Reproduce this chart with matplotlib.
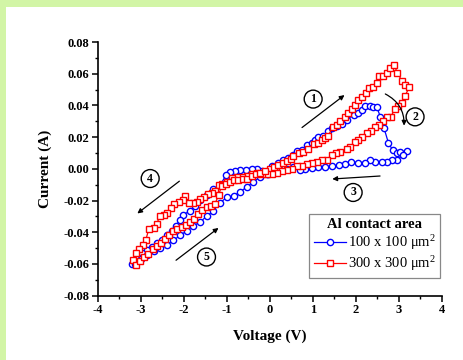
import matplotlib
matplotlib.use("Agg")
import matplotlib.pyplot as plt
from matplotlib.patches import Rectangle

# curva del contacto 100 x 100 um2 (V, A) siguiendo el barrido 0 -> +3.2 -> 0 -> -3.2 -> 0
v_100 = [0.05, 0.2, 0.32, 0.43, 0.55, 0.63, 0.74, 0.86, 0.98, 1.05, 1.13, 1.25, 1.36, 1.44, 1.56,
         1.67, 1.79, 1.95, 2.06, 2.14, 2.22, 2.33, 2.41, 2.49, 2.57, 2.66, 2.76, 2.86, 2.95, 3.03,
         3.2, 3.1, 2.97, 2.84, 2.72, 2.6, 2.45, 2.33, 2.22, 2.06, 1.9, 1.75, 1.6, 1.44, 1.29, 1.13,
         0.98, 0.82, 0.7, 0.55, 0.4, 0.24, 0.085, -0.03, -0.19, -0.3, -0.42, -0.55, -0.69, -0.81,
         -0.92, -1.02, -1.15, -1.31, -1.47, -1.62, -1.74, -1.85, -2.02, -2.08, -2.18, -2.28, -2.4,
         -2.51, -2.63, -2.74, -2.86, -2.98, -3.09, -3.21, -3.13, -3.0, -2.86, -2.7, -2.55, -2.4,
         -2.24, -2.08, -1.93, -1.78, -1.62, -1.47, -1.31, -1.16, -1.0, -0.84, -0.69, -0.53, -0.38,
         -0.22, -0.07, 0.05]
i_100 = [0.0015, 0.0034, 0.0055, 0.007, 0.0086, 0.011, 0.012, 0.015, 0.016, 0.0185, 0.020, 0.021,
         0.024, 0.026, 0.027, 0.0286, 0.031, 0.034, 0.035, 0.037, 0.0396, 0.0396, 0.039, 0.039,
         0.033, 0.0255, 0.0164, 0.0118, 0.010, 0.0107, 0.0114, 0.0086, 0.0059, 0.0055, 0.0042,
         0.0042, 0.0046, 0.0055, 0.0038, 0.0038, 0.0044, 0.003, 0.0023, 0.0017, 0.0013, 0.0013,
         0.0006, -0.0004, -0.0008, 0.0013, 0.0002, -0.0008, -0.0025, -0.0034, -0.0015, -0.0002,
         -0.0002, -0.0005, -0.0008, -0.0013, -0.0019, -0.004, -0.0103, -0.013, -0.0166, -0.0198,
         -0.0234, -0.0265, -0.029, -0.032, -0.036, -0.039, -0.042, -0.045, -0.047, -0.049, -0.051,
         -0.053, -0.056, -0.060, -0.060, -0.0566, -0.0545, -0.052, -0.050, -0.048, -0.045, -0.042,
         -0.039, -0.036, -0.0335, -0.030, -0.0265, -0.0215, -0.018, -0.0173, -0.0145, -0.0114,
         -0.0082, -0.005, -0.003, -0.0008]

# curva del contacto 300 x 300 um2
v_300 = [0.01, 0.1, 0.2, 0.3, 0.4, 0.49, 0.55, 0.67, 0.78, 0.9, 1.02, 1.13, 1.21, 1.29, 1.36, 1.46,
         1.56, 1.64, 1.75, 1.83, 1.91, 1.98, 2.06, 2.14, 2.24, 2.32, 2.41, 2.49, 2.55, 2.63, 2.72,
         2.8, 2.89, 2.97, 3.07, 3.15, 3.25, 3.15, 3.07, 2.99, 2.91, 2.81, 2.72, 2.63, 2.55, 2.45,
         2.35, 2.26, 2.14, 2.06, 1.98, 1.87, 1.79, 1.64, 1.54, 1.44, 1.33, 1.21, 1.09, 0.98, 0.86,
         0.74, 0.63, 0.51, 0.4, 0.28, 0.16, 0.05, -0.07, -0.19, -0.3, -0.42, -0.53, -0.65, -0.77,
         -0.88, -1.0, -1.12, -1.19, -1.27, -1.35, -1.43, -1.53, -1.62, -1.7, -1.79, -1.87, -1.96,
         -2.02, -2.12, -2.22, -2.3, -2.4, -2.47, -2.55, -2.63, -2.7, -2.81, -2.88, -2.95, -3.03,
         -3.11, -3.19, -3.11, -3.02, -2.92, -2.82, -2.72, -2.63, -2.53, -2.43, -2.34, -2.24, -2.15,
         -2.05, -1.95, -1.85, -1.76, -1.66, -1.57, -1.47, -1.37, -1.27, -1.19, -1.12, -1.02, -0.92,
         -0.83, -0.73, -0.63, -0.53, -0.42, -0.32, -0.22, -0.11]
i_300 = [-0.0004, 0.0013, 0.0027, 0.0034, 0.005, 0.0065, 0.008, 0.0097, 0.0107, 0.0128, 0.0156,
         0.0164, 0.018, 0.0196, 0.0206, 0.0265, 0.0276, 0.0303, 0.0328, 0.0354, 0.038, 0.040,
         0.0434, 0.0455, 0.048, 0.0507, 0.0514, 0.054, 0.0585, 0.0585, 0.0606, 0.0634, 0.0655,
         0.0606, 0.0556, 0.0528, 0.0518, 0.0461, 0.0417, 0.0396, 0.0375, 0.0328, 0.0328, 0.0303,
         0.0276, 0.0265, 0.0238, 0.0223, 0.0202, 0.018, 0.017, 0.0135, 0.0128, 0.0107, 0.0097,
         0.0086, 0.0059, 0.0059, 0.0044, 0.0038, 0.003, 0.0019, 0.0017, 0.0002, -0.0008, -0.0013,
         -0.0025, -0.003, -0.0034, -0.003, -0.0025, -0.0034, -0.0046, -0.005, -0.005, -0.006,
         -0.0082, -0.0093, -0.0103, -0.0139, -0.0152, -0.0156, -0.0177, -0.0187, -0.0208, -0.0215,
         -0.0213, -0.0173, -0.0198, -0.0208, -0.0223, -0.025, -0.0276, -0.029, -0.0299, -0.0345,
         -0.0373, -0.0379, -0.0446, -0.0482, -0.0503, -0.053, -0.0577, -0.0608, -0.0581, -0.0556,
         -0.0535, -0.0503, -0.0488, -0.0467, -0.044, -0.0419, -0.0394, -0.0377, -0.0366, -0.0356,
         -0.0335, -0.0314, -0.0282, -0.0261, -0.024, -0.0234, -0.0219, -0.0166, -0.011, -0.0093,
         -0.0084, -0.0072, -0.0072, -0.0065, -0.0061, -0.0046, -0.0034, -0.0025, -0.0013]

etiquetas = ["100 x 100 $\\mathregular{\\mu m^2}$", "300 x 300 $\\mathregular{\\mu m^2}$"]

plt.rcParams['font.family'] = 'Liberation Serif'
plt.rcParams['font.weight'] = 'bold'
plt.rcParams['mathtext.fontset'] = 'custom'
plt.rcParams['mathtext.rm'] = 'Liberation Serif'

fig = plt.figure(figsize=(4.64, 3.6), dpi=100)
fig.patch.set_facecolor('white')
# franjas verdes del fondo de la diapositiva
fig.patches.append(Rectangle((0, 1 - 7 / 360), 1, 7 / 360, transform=fig.transFigure,
                             facecolor='#d2f5a6', edgecolor='none', zorder=0))
fig.patches.append(Rectangle((0, 0), 6 / 464, 1, transform=fig.transFigure,
                             facecolor='#d2f5a6', edgecolor='none', zorder=0))

ax = fig.add_axes([0.2106, 0.1786, 0.7414, 0.7047])

ax.plot(v_100, i_100, '-o', color='blue', mfc='white', mec='blue', ms=4.5, mew=1.0, lw=0.9,
        label=etiquetas[0])
ax.plot(v_300, i_300, '-s', color='red', mfc='white', mec='red', ms=4.0, mew=1.0, lw=0.9,
        label=etiquetas[1])

ax.set_xlim(-4, 4)
ax.set_ylim(-0.08, 0.08)
ax.set_xticks([-4, -3, -2, -1, 0, 1, 2, 3, 4])
ax.set_xticklabels(['-4', '-3', '-2', '-1', '0', '1', '2', '3', '4'])
ax.set_yticks([-0.08, -0.06, -0.04, -0.02, 0.0, 0.02, 0.04, 0.06, 0.08])
ax.set_yticklabels(['-0.08', '-0.06', '-0.04', '-0.02', '0.00', '0.02', '0.04', '0.06', '0.08'])
ax.set_xticks([-3.5, -2.5, -1.5, -0.5, 0.5, 1.5, 2.5, 3.5], minor=True)
ax.set_yticks([-0.07, -0.05, -0.03, -0.01, 0.01, 0.03, 0.05, 0.07], minor=True)
ax.tick_params(which='major', direction='out', length=4, width=1.1, labelsize=9, pad=2)
ax.tick_params(which='minor', direction='out', length=2.5, width=1.0)
ax.spines['top'].set_visible(False)
ax.spines['right'].set_visible(False)
ax.spines['left'].set_linewidth(1.2)
ax.spines['bottom'].set_linewidth(1.2)

ax.set_xlabel('Voltage (V)', fontsize=11, fontweight='bold', labelpad=10)
ax.set_ylabel('Current (A)', fontsize=11, fontweight='bold', labelpad=8)

# flechas del sentido del barrido
flecha = dict(arrowstyle='-|>', color='black', lw=0.9, mutation_scale=7)
ax.annotate('', xy=(1.79, 0.0476), xytext=(0.70, 0.025), arrowprops=flecha)
ax.annotate('', xy=(3.12, 0.0255), xytext=(2.63, 0.048),
            arrowprops=dict(flecha, connectionstyle='arc3,rad=-0.35'))
ax.annotate('', xy=(1.39, -0.0065), xytext=(2.63, -0.0044), arrowprops=flecha)
ax.annotate('', xy=(-3.13, -0.0292), xytext=(-2.05, -0.0067), arrowprops=flecha)
ax.annotate('', xy=(-1.14, -0.0362), xytext=(-2.23, -0.0587), arrowprops=flecha)

circulo = dict(boxstyle='circle,pad=0.25', fc='white', ec='black', lw=1.0)
for txt, x, y in [('1', 1.01, 0.044), ('2', 3.38, 0.0328), ('3', 1.94, -0.0149),
                  ('4', -2.78, -0.0061), ('5', -1.47, -0.0556)]:
    ax.text(x, y, txt, fontsize=8.5, fontweight='bold', ha='center', va='center', bbox=circulo)

leg = ax.legend(loc='lower right', bbox_to_anchor=(1.0, 0.066), title='Al contact area',
                prop={'size': 10.5, 'weight': 'normal'},
                title_fontproperties={'weight': 'bold', 'size': 10.5},
                fancybox=False, edgecolor='#888888', framealpha=1, handlelength=2.2,
                handletextpad=0.15, borderpad=0.3, labelspacing=0.15, borderaxespad=0.1)
leg.get_frame().set_linewidth(0.9)

fig.savefig('out.png', dpi=100)
